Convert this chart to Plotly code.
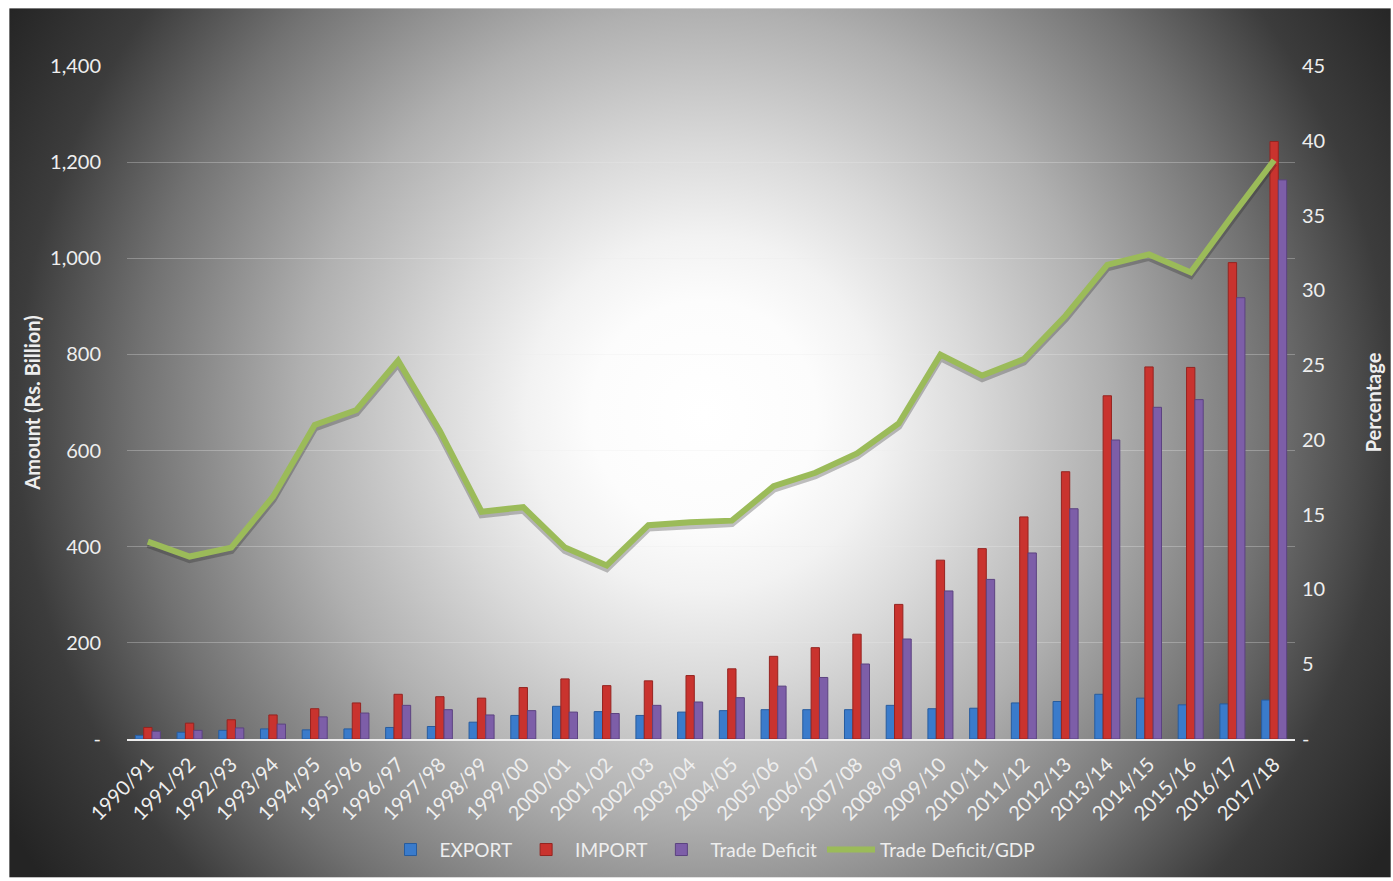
import base64
import plotly.graph_objects as go

# Fiscal years on the category axis
years = ["1990/91", "1991/92", "1992/93", "1993/94", "1994/95", "1995/96", "1996/97",
         "1997/98", "1998/99", "1999/00", "2000/01", "2001/02", "2002/03", "2003/04",
         "2004/05", "2005/06", "2006/07", "2007/08", "2008/09", "2009/10", "2010/11",
         "2011/12", "2012/13", "2013/14", "2014/15", "2015/16", "2016/17", "2017/18"]

# Amounts in Rs. Billion
export_vals = [7.6, 14, 18, 21, 19, 21, 24, 26, 35, 49, 68, 57, 49, 56,
               59, 61, 61, 61, 70, 63, 64, 75, 78, 93, 85, 71, 73, 81]
import_vals = [24, 33, 40, 50, 63, 75, 93, 88, 85, 107, 125, 111, 121, 132,
               146, 172, 190, 218, 280, 372, 396, 462, 556, 714, 774, 773, 991, 1243]
deficit_vals = [16, 18, 23, 31, 46, 54, 70, 61, 50, 59, 56, 53, 70, 77,
                86, 110, 128, 156, 208, 308, 332, 387, 479, 622, 690, 706, 918, 1163]

# Trade deficit as a share of GDP (%)
deficit_gdp = [13.2, 12.2, 12.8, 16.2, 21.0, 22.0, 25.3, 20.6, 15.2, 15.5, 12.8, 11.6, 14.3, 14.5,
               14.6, 16.9, 17.8, 19.1, 21.1, 25.7, 24.3, 25.4, 28.3, 31.7, 32.4, 31.2, 35.0, 38.7]

# Axis ticks
amount_ticks = [0, 200, 400, 600, 800, 1000, 1200, 1400]
amount_labels = ["-", "200", "400", "600", "800", "1,000", "1,200", "1,400"]
pct_ticks = [0, 5, 10, 15, 20, 25, 30, 35, 40, 45]
pct_labels = ["-", "5", "10", "15", "20", "25", "30", "35", "40", "45"]

W, H = 1393, 881
ML, MR, MT, MB = 127, 96, 66, 140
PW, PH = W - ML - MR, H - MT - MB

FONT = "Lato"
TXT = "#EEEEEE"

# Radial grey backdrop behind the whole chart
BG_X0, BG_Y0, BG_X1, BG_Y1 = 9, 8, 1393, 880
bw, bh = BG_X1 - BG_X0, BG_Y1 - BG_Y0
svg = (
    f'<svg xmlns="http://www.w3.org/2000/svg" width="{bw}" height="{bh}" '
    f'viewBox="0 0 {bw} {bh}" preserveAspectRatio="none">'
    '<defs><radialGradient id="g" gradientUnits="userSpaceOnUse" '
    f'cx="{705 - BG_X0}" cy="{415 - BG_Y0}" r="810">'
    '<stop offset="0" stop-color="#ffffff"/>'
    '<stop offset="0.14" stop-color="#fcfcfc"/>'
    '<stop offset="0.22" stop-color="#f2f2f2"/>'
    '<stop offset="0.33" stop-color="#dadada"/>'
    '<stop offset="0.50" stop-color="#b0b0b0"/>'
    '<stop offset="0.70" stop-color="#727272"/>'
    '<stop offset="0.85" stop-color="#3c3c3c"/>'
    '<stop offset="1" stop-color="#242424"/>'
    '</radialGradient></defs>'
    f'<rect width="{bw}" height="{bh}" fill="url(#g)"/></svg>'
)
bg_src = "data:image/svg+xml;base64," + base64.b64encode(svg.encode()).decode()


def px_x(p):
    return (p - ML) / PW


def px_y(p):
    return (H - MB - p) / PH


fig = go.Figure()

bar_styles = [
    ("EXPORT", export_vals, "#3A7BCB", "#275C9E"),
    ("IMPORT", import_vals, "#C9332E", "#952420"),
    ("Trade Deficit", deficit_vals, "#7D5EA8", "#5C4380"),
]
for name, vals, col, edge in bar_styles:
    fig.add_trace(go.Bar(
        x=years, y=vals, name=name,
        marker=dict(color=col, line=dict(color=edge, width=1)),
        yaxis="y",
    ))

# soft drop shadow under the ratio line (same data, axis nudged a few px down)
shift = 3 * 45 / PH
fig.add_trace(go.Scatter(
    x=years, y=deficit_gdp, mode="lines", yaxis="y2", showlegend=False,
    line=dict(color="rgba(30,30,30,0.28)", width=7), hoverinfo="skip",
))
fig.add_trace(go.Scatter(
    x=years, y=deficit_gdp, mode="lines", name="Trade Deficit/GDP", yaxis="y3",
    line=dict(color="#9BBB59", width=6),
))

fig.update_layout(
    width=W, height=H,
    margin=dict(l=ML, r=MR, t=MT, b=MB),
    paper_bgcolor="#ffffff",
    plot_bgcolor="rgba(0,0,0,0)",
    font=dict(family=FONT, color=TXT, size=20),
    barmode="group", bargap=0.40, bargroupgap=0,
    showlegend=True,
    legend=dict(
        orientation="h", x=0.5, xanchor="center", y=px_y(852), yanchor="middle",
        font=dict(size=19, color=TXT, family=FONT), bgcolor="rgba(0,0,0,0)",
        traceorder="normal", itemwidth=48,
    ),
    images=[dict(
        source=bg_src, xref="paper", yref="paper",
        x=px_x(BG_X0), y=px_y(BG_Y0), sizex=bw / PW, sizey=bh / PH,
        xanchor="left", yanchor="top", sizing="stretch", layer="below",
    )],
    xaxis=dict(
        type="category", tickangle=-45, showgrid=False,
        showline=True, linecolor="#EDEDED", linewidth=2,
        tickfont=dict(size=20, color=TXT), ticks="", range=[-0.5, 27.5],
        ticklabelstandoff=4,
    ),
    yaxis=dict(
        range=[0, 1400], tickvals=amount_ticks, ticktext=amount_labels,
        showgrid=True, gridcolor="rgba(235,235,235,0.30)", gridwidth=1,
        zeroline=False, showline=False, ticks="", ticklabelstandoff=25,
        tickfont=dict(size=20, color=TXT),
        title=dict(text="<b>Amount (Rs. Billion)</b>", font=dict(size=20, color=TXT), standoff=4),
    ),
    yaxis2=dict(
        range=[shift, 45 + shift], overlaying="y", side="right",
        visible=False, showgrid=False,
    ),
    yaxis3=dict(
        range=[0, 45], overlaying="y", side="right",
        tickvals=pct_ticks, ticktext=pct_labels, showgrid=False, zeroline=False,
        ticks="", ticklabelstandoff=6, tickfont=dict(size=20, color=TXT),
        title=dict(text="<b>Percentage</b>", font=dict(size=20, color=TXT), standoff=42),
    ),
)

fig.write_html("out.html")
